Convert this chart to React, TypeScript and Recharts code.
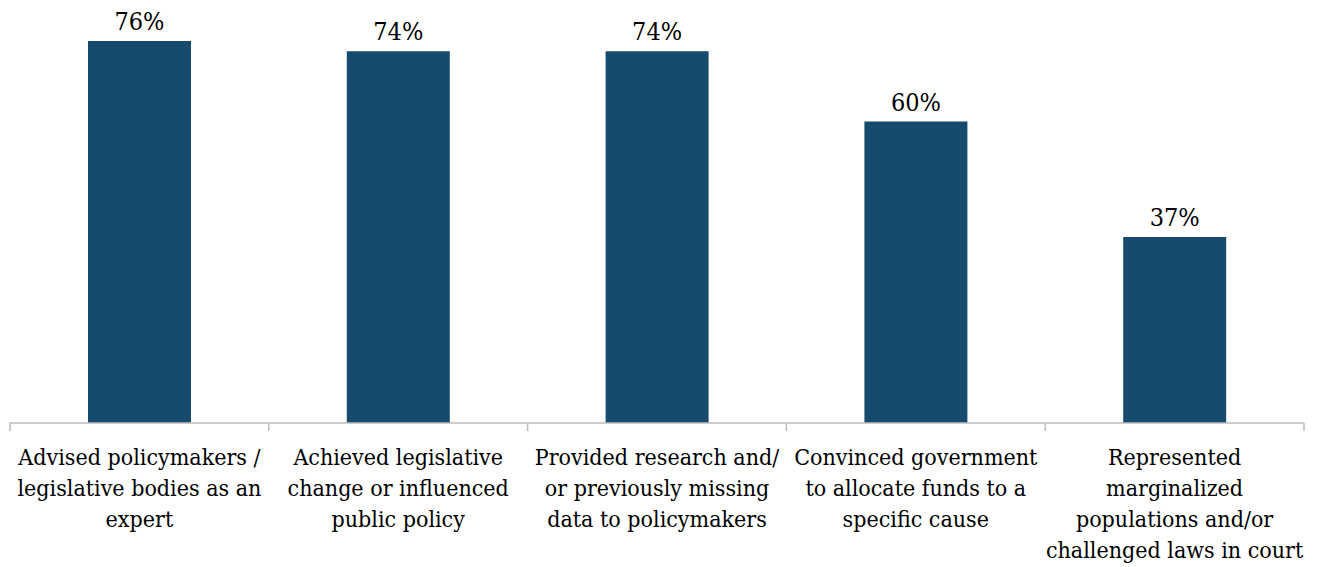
import { Bar, BarChart, LabelList, XAxis, YAxis } from "recharts";

const categories = [
  "Advised policymakers /\nlegislative bodies as an\nexpert",
  "Achieved legislative\nchange or influenced\npublic policy",
  "Provided research and/\nor previously missing\ndata to policymakers",
  "Convinced government\nto allocate funds to a\nspecific cause",
  "Represented\nmarginalized\npopulations and/or\nchallenged laws in court",
];
const shares = [76, 74, 74, 60, 37];

const data = categories.map((name, i) => ({ name, value: shares[i] }));

const W = 1320;
const H = 567;
const MARGIN = { top: 21, right: 16, bottom: 0, left: 10 };
const STEP = (W - MARGIN.left - MARGIN.right) / categories.length;
const FONT = '"DejaVu Serif Condensed", "DejaVu Serif", serif';
const BAR = "#174b6e";
const AXIS = "#bdbdbd";

// category label + tick marks on the band edges
function CategoryTick(props: any) {
  const { x, y, payload, index } = props;
  const lines = String(payload.value).split("\n");
  const last = index === categories.length - 1;
  return (
    <g>
      <line x1={x - STEP / 2} y1={y} x2={x - STEP / 2} y2={y + 8} stroke={AXIS} strokeWidth={1.5} />
      {last && (
        <line x1={x + STEP / 2} y1={y} x2={x + STEP / 2} y2={y + 8} stroke={AXIS} strokeWidth={1.5} />
      )}
      <text x={x} y={y + 42} textAnchor="middle" fontFamily={FONT} fontSize={23} fill="#000">
        {lines.map((ln, i) => (
          <tspan key={i} x={x} dy={i === 0 ? 0 : 31}>
            {ln}
          </tspan>
        ))}
      </text>
    </g>
  );
}

export default function App() {
  return (
    <div style={{ position: "absolute", left: 0, top: 0, width: W, height: H, background: "#fff" }}>
      <BarChart width={W} height={H} data={data} margin={MARGIN} barSize={103}>
        <XAxis
          dataKey="name"
          height={H - 423}
          interval={0}
          tickLine={false}
          tickSize={0}
          tickMargin={0}
          axisLine={{ stroke: AXIS, strokeWidth: 1.5 }}
          tick={<CategoryTick />}
        />
        <YAxis hide domain={[0, 80]} />
        <Bar dataKey="value" fill={BAR} isAnimationActive={false}>
          <LabelList
            dataKey="value"
            position="top"
            offset={11}
            formatter={(v: any) => `${v}%`}
            fontFamily={FONT}
            fontSize={25}
            fill="#000"
          />
        </Bar>
      </BarChart>
    </div>
  );
}
